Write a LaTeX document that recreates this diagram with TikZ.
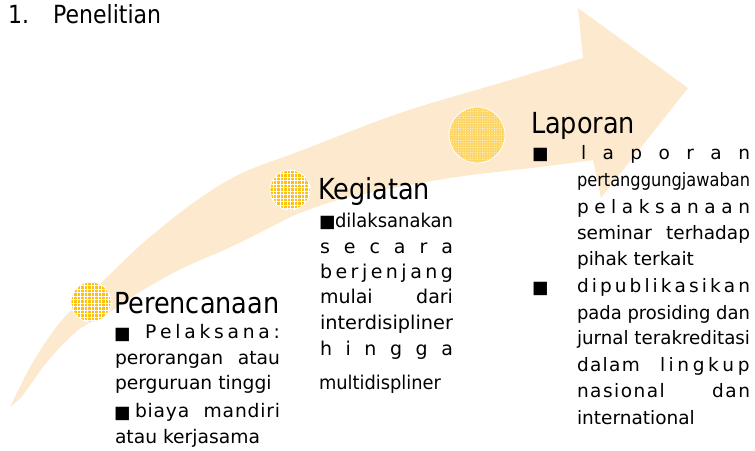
\documentclass[tikz,border=0pt]{standalone}
\usepackage{fontspec}
\usepackage{graphicx}
\setmainfont{DejaVu Sans}
\newfontfamily\tah[FakeStretch=0.88]{DejaVu Sans}
\usetikzlibrary{patterns.meta}
\definecolor{arrowc}{RGB}{253,233,205}
\definecolor{dotA}{RGB}{255,192,16}
\definecolor{dotB}{RGB}{253,214,104}
\def\lspend{LSPEND}
\def\lspA#1{\ifx#1\lspend\else#1\lspglue\expandafter\lspA\fi}
\newcommand\lsp[2]{\makebox[#1][s]{\def\lspglue{\hskip0pt plus1fil\relax}\lspA#2\lspend\unskip}}
\newcommand\lsk[3]{\makebox[#1][s]{\def\lspglue{\kern#2\relax}\lspA#3\lspend\unkern}}
\newcommand\jst[2]{\makebox[#1][s]{#2}}
\newcommand\sqz[2]{\resizebox{#1}{\height}{\tah #2}}
\begin{document}
\begin{tikzpicture}[x=1pt,y=-1pt,
  txt/.style={anchor=base west, inner sep=0pt, outer sep=0pt, font=\fontsize{18.7}{22}\selectfont},
  txk/.style={txt, font=\fontsize{19}{22}\selectfont},
  txl/.style={txt, font=\fontsize{18.5}{22}\selectfont},
  bul/.style={txt, font=\fontsize{17.5}{20}\selectfont},
  head/.style={anchor=base west, inner sep=0pt, outer sep=0pt, font=\tah\fontsize{29}{32}\selectfont},
  dotorange/.style={circle, inner sep=0pt, minimum size=40pt, fill=dotA, draw=white, line width=0.8pt,
    postaction={pattern={Hatch[angle=0,distance=3.5pt,line width=0.6pt]}, pattern color=white}},
  dotpale/.style={circle, inner sep=0pt, minimum size=56pt, fill=dotB, draw=white, line width=0.8pt,
    postaction={pattern={Dots[distance=2.4pt,radius=0.45pt]}, pattern color=white}}]
\useasboundingbox (0,0) rectangle (755,450);
% curved arrow
\fill[arrowc] plot[smooth,tension=0.55] coordinates {(10,407) (33,362) (62,320) (100,284) (143,243) (193,203) (240,174) (300,151) (400,113) (500,83) (583,58)}
  -- (578,8) -- (688,88) -- (601,198) -- (593,160)
  -- plot[smooth,tension=0.55] coordinates {(593,160) (540,167) (450,178) (350,197) (300,213) (273,226) (233,246) (183,268) (143,290) (110,312) (77,331) (47,362) (23,395) (10,407)} -- cycle;
% title
\node[anchor=base west, inner sep=0pt, font=\tah\fontsize{25}{28}\selectfont] (title) at (8,23) {\makebox[45pt][l]{1.}Penelitian};
% circles
\node[dotorange] (pc) at (91,302) {};
\node[dotorange] (kc) at (290,190) {};
\node[dotpale] (lc) at (477,135) {};
% headings
\node[head] (ph) at (114,313) {Perencanaan};
\node[head] (kh) at (318,199) {Kegiatan};
\node[head] (lh) at (531,133) {Laporan};
% Perencanaan
\node[bul] (pb1) at (114,339) {■};
\node[txt] (p1) at (145,338) {\lsp{135pt}{Pelaksana:}};
\node[txt] (p2) at (115,364) {\jst{165pt}{perorangan atau}};
\node[txt] (p3) at (115,389) {perguruan tinggi};
\node[bul] (pb2) at (114,418) {■};
\node[txt] (p4) at (135,417) {\lsk{145pt}{0.8pt}{biaya~mandiri}};
\node[txt] (p5) at (115,443) {atau kerjasama};
% Kegiatan
\node[bul] (kb1) at (319,227) {■};
\node[txk] (k1) at (335,227) {\sqz{118pt}{dilaksanakan}};
\node[txk] (k2) at (320,253) {\lsp{133pt}{secara}};
\node[txk] (k3) at (320,278) {\lsp{133pt}{berjenjang}};
\node[txk] (k4) at (320,303) {\jst{133pt}{mulai dari}};
\node[txk] (k5) at (320,329) {\resizebox{133pt}{\height}{interdisipliner}};
\node[txk] (k6) at (320,355) {\lsp{133pt}{hingga}};
\node[txk] (k7) at (319,389) {\sqz{122pt}{multidispliner}};
% Laporan
\node[bul] (lb1) at (532,159) {■};
\node[txl] (l1) at (581,159) {\lsp{169pt}{laporan}};
\node[txl] (l2) at (577,186) {\sqz{173pt}{pertanggungjawaban}};
\node[txl] (l3) at (577,213) {\lsp{173pt}{pelaksanaan}};
\node[txl] (l4) at (577,239) {\jst{173pt}{seminar terhadap}};
\node[txl] (l5) at (577,265) {pihak terkait};
\node[bul] (lb2) at (532,293) {■};
\node[txl] (l6) at (577,292) {\lsp{173pt}{dipublikasikan}};
\node[txl] (l7) at (577,319) {\sqz{173pt}{pada prosiding dan}};
\node[txl] (l8) at (577,344) {\sqz{173pt}{jurnal terakreditasi}};
\node[txl] (l9) at (577,371) {\jst{173pt}{\lsk{63pt}{1.3pt}{dalam} \lsk{90pt}{3.6pt}{lingkup}}};
\node[txl] (l10) at (577,397) {\lsk{173pt}{1.5pt}{nasional~dan}};
\node[txl] (l11) at (577,424) {international};
\end{tikzpicture}
\end{document}
